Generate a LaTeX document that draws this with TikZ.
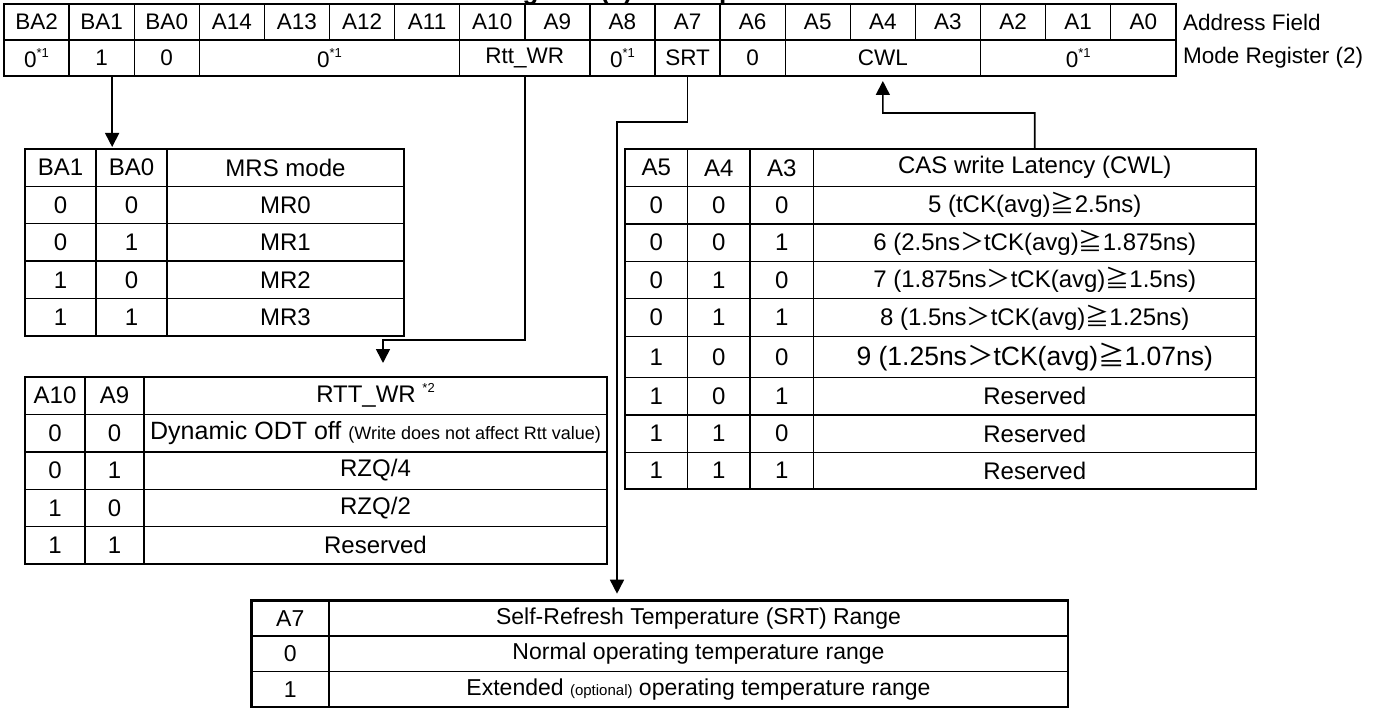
\documentclass[tikz,border=0pt]{standalone}
\usepackage{fontspec}
\setmainfont{Liberation Sans}
\newfontfamily\cjk{Noto Sans CJK JP}
\usetikzlibrary{arrows.meta,fit}
\newcommand\supr[1]{\raisebox{0.8ex}{\fontsize{13}{13}\selectfont #1}}
\newcommand\tcell[7][cellst]{\node[#1,minimum width={(#5)-(#3)},minimum height={(#6)-(#4)}] (#2) at ({((#3)+(#5))/2},{((#4)+(#6))/2}) {#7};}
\newcommand\GE{{\cjk ≧}}
\newcommand\GT{{\cjk ＞}}
\begin{document}
\begin{tikzpicture}[x=1pt,y=-1pt,
  cellst/.style={draw,line width=1.4pt,inner sep=0pt,outer sep=0pt,font=\fontsize{24}{28}\selectfont},
  topc/.style={cellst,font=\fontsize{22.5}{26}\selectfont},
  srtc/.style={cellst,font=\fontsize{23}{27}\selectfont},
  bigc/.style={cellst,font=\fontsize{26.5}{30}\selectfont},
  frame/.style={draw,line width=2.6pt,inner sep=0pt,outer sep=0pt},
  conn/.style={line width=1.6pt},
  arr/.style={conn,-{Triangle[length=14pt,width=14pt]}},
  lab/.style={font=\fontsize{22.5}{26}\selectfont,inner sep=0pt,anchor=west}]
\useasboundingbox (0,0) rectangle (1384,711);

% title (cut by the page edge, as in the reference)
\node[font=\bfseries\fontsize{26}{30}\selectfont,anchor=base west,inner sep=0pt] (title) at (414,0) {Mode Register (2) Description};

% ---------- top register table ----------
\foreach \lab [count=\i from 0] in {BA2,BA1,BA0,A14,A13,A12,A11,A10,A9,A8,A7,A6,A5,A4,A3,A2,A1,A0}{
  \pgfmathsetmacro\xa{4+65.1*\i}\pgfmathsetmacro\xb{4+65.1*(\i+1)}
  \tcell[topc]{h\i}{\xa}{4}{\xb}{40}{\lab}}
\tcell[topc]{v0}{4}{40}{69.1}{76}{0\supr{*1}}
\tcell[topc]{v1}{69.1}{40}{134.2}{76}{1}
\tcell[topc]{v2}{134.2}{40}{199.3}{76}{0}
\tcell[topc]{v3}{199.3}{40}{459.7}{76}{0\supr{*1}}
\tcell[topc]{vrtt}{459.7}{40}{589.9}{76}{Rtt\_WR}
\tcell[topc]{v8}{589.9}{40}{655}{76}{0\supr{*1}}
\tcell[topc]{vsrt}{655}{40}{720.1}{76}{SRT}
\tcell[topc]{v6}{720.1}{40}{785.2}{76}{0}
\tcell[topc]{vcwl}{785.2}{40}{980.5}{76}{CWL}
\tcell[topc]{vlo}{980.5}{40}{1175.8}{76}{0\supr{*1}}
\node[frame,fit=(h0)(vlo)] (topframe) {};
\node[lab] (laf) at (1183,22) {Address Field};
\node[lab] (lmr) at (1183,58) {Mode Register (2)};

% ---------- MRS table ----------
\foreach \a/\b/\c [count=\r from 0] in {BA1/BA0/MRS mode,0/0/MR0,0/1/MR1,1/0/MR2,1/1/MR3}{
  \pgfmathsetmacro\ya{149+37.4*\r}\pgfmathsetmacro\yb{149+37.4*(\r+1)}
  \tcell{ma\r}{25}{\ya}{96}{\yb}{\a}
  \tcell{mb\r}{96}{\ya}{167}{\yb}{\b}
  \tcell{mc\r}{167}{\ya}{404}{\yb}{\c}}
\node[frame,fit=(ma0)(mc4)] (mrsframe) {};

% ---------- RTT_WR table ----------
\tcell{ra0}{25}{377}{85}{414.4}{A10}
\tcell{rb0}{85}{377}{144}{414.4}{A9}
\tcell{rc0}{144}{377}{607}{414.4}{RTT\_WR \supr{*2}}
\tcell{ra1}{25}{414.4}{85}{451.8}{0}
\tcell{rb1}{85}{414.4}{144}{451.8}{0}
\tcell{rc1}{144}{414.4}{607}{451.8}{\fontsize{25}{28}\selectfont Dynamic ODT off {\fontsize{18}{20}\selectfont (Write does not affect Rtt value)}}
\tcell{ra2}{25}{451.8}{85}{489.2}{0}
\tcell{rb2}{85}{451.8}{144}{489.2}{1}
\tcell{rc2}{144}{451.8}{607}{489.2}{RZQ/4}
\tcell{ra3}{25}{489.2}{85}{526.6}{1}
\tcell{rb3}{85}{489.2}{144}{526.6}{0}
\tcell{rc3}{144}{489.2}{607}{526.6}{RZQ/2}
\tcell{ra4}{25}{526.6}{85}{564}{1}
\tcell{rb4}{85}{526.6}{144}{564}{1}
\tcell{rc4}{144}{526.6}{607}{564}{Reserved}
\node[frame,fit=(ra0)(rc4)] (rttframe) {};

% ---------- CWL table ----------
\tcell{ca0}{625}{149}{687.5}{186.5}{A5}
\tcell{cb0}{687.5}{149}{750}{186.5}{A4}
\tcell{cc0}{750}{149}{813.5}{186.5}{A3}
\tcell{cwlh}{813.5}{149}{1256}{186.5}{CAS write Latency (CWL)}
\tcell{ca1}{625}{186.5}{687.5}{224}{0}
\tcell{cb1}{687.5}{186.5}{750}{224}{0}
\tcell{cc1}{750}{186.5}{813.5}{224}{0}
\tcell{cd1}{813.5}{186.5}{1256}{224}{5 (tCK(avg)\GE2.5ns)}
\tcell{ca2}{625}{224}{687.5}{261.3}{0}
\tcell{cb2}{687.5}{224}{750}{261.3}{0}
\tcell{cc2}{750}{224}{813.5}{261.3}{1}
\tcell{cd2}{813.5}{224}{1256}{261.3}{6 (2.5ns\GT tCK(avg)\GE1.875ns)}
\tcell{ca3}{625}{261.3}{687.5}{298.7}{0}
\tcell{cb3}{687.5}{261.3}{750}{298.7}{1}
\tcell{cc3}{750}{261.3}{813.5}{298.7}{0}
\tcell{cd3}{813.5}{261.3}{1256}{298.7}{7 (1.875ns\GT tCK(avg)\GE1.5ns)}
\tcell{ca4}{625}{298.7}{687.5}{336.7}{0}
\tcell{cb4}{687.5}{298.7}{750}{336.7}{1}
\tcell{cc4}{750}{298.7}{813.5}{336.7}{1}
\tcell{cd4}{813.5}{298.7}{1256}{336.7}{8 (1.5ns\GT tCK(avg)\GE1.25ns)}
\tcell{ca5}{625}{336.7}{687.5}{377.3}{1}
\tcell{cb5}{687.5}{336.7}{750}{377.3}{0}
\tcell{cc5}{750}{336.7}{813.5}{377.3}{0}
\tcell[bigc]{cd5}{813.5}{336.7}{1256}{377.3}{9 (1.25ns\GT tCK(avg)\GE1.07ns)}
\tcell{ca6}{625}{377.3}{687.5}{415}{1}
\tcell{cb6}{687.5}{377.3}{750}{415}{0}
\tcell{cc6}{750}{377.3}{813.5}{415}{1}
\tcell{cd6}{813.5}{377.3}{1256}{415}{Reserved}
\tcell{ca7}{625}{415}{687.5}{452.3}{1}
\tcell{cb7}{687.5}{415}{750}{452.3}{1}
\tcell{cc7}{750}{415}{813.5}{452.3}{0}
\tcell{cd7}{813.5}{415}{1256}{452.3}{Reserved}
\tcell{ca8}{625}{452.3}{687.5}{489}{1}
\tcell{cb8}{687.5}{452.3}{750}{489}{1}
\tcell{cc8}{750}{452.3}{813.5}{489}{1}
\tcell{cd8}{813.5}{452.3}{1256}{489}{Reserved}
\node[frame,fit=(ca0)(cd8)] (cwlframe) {};

% ---------- SRT table ----------
\tcell[srtc]{sa0}{251.5}{600.7}{329}{636.1}{A7}
\tcell[srtc]{sb0}{329}{600.7}{1068}{636.1}{Self-Refresh Temperature (SRT) Range}
\tcell[srtc]{sa1}{251.5}{636.1}{329}{671.5}{0}
\tcell[srtc]{sb1}{329}{636.1}{1068}{671.5}{Normal operating temperature range}
\tcell[srtc]{sa2}{251.5}{671.5}{329}{707}{1}
\tcell[srtc]{sb2}{329}{671.5}{1068}{707}{Extended {\fontsize{15}{18}\selectfont (optional)} operating temperature range}
\node[frame,fit=(sa0)(sb2)] (srtframe) {};

% ---------- connectors ----------
\draw[arr,shorten >=2pt] ([xshift=10.5pt]v1.south) -- ([xshift=10.5pt]v1.south |- mrsframe.north);
\coordinate (rttb) at (383,340);
\draw[arr,shorten >=14pt] (vrtt.south) |- (rttb) -- (rttb |- rttframe.north);
\coordinate (srtb) at (617,122);
\draw[arr,shorten >=7pt] (vsrt.south) |- (srtb) -- (srtb |- srtframe.north);
\coordinate (cwlb) at (882.85,113);
\draw[arr,shorten >=5pt] (cwlh.north) |- (cwlb) -- (vcwl.south);
\end{tikzpicture}
\end{document}
